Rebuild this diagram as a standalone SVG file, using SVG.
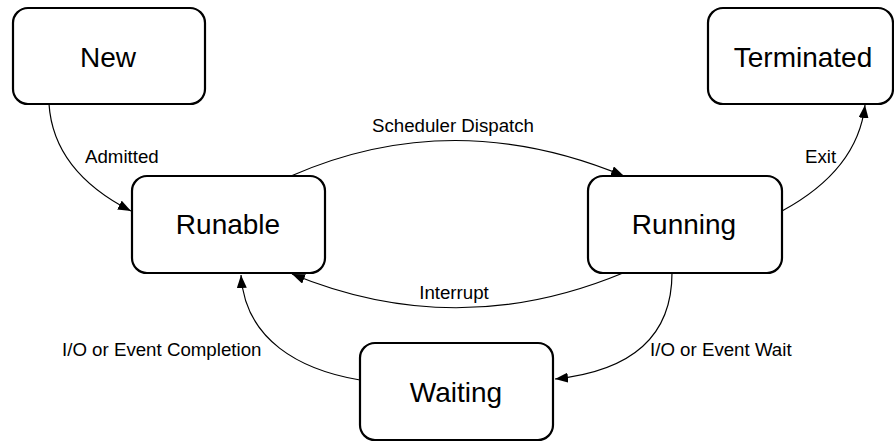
<svg xmlns="http://www.w3.org/2000/svg" width="894" height="442" viewBox="0 0 894 442">
<style>
.node rect{fill:#fff;stroke:#000;stroke-width:2.2}
.node text{font-family:"Liberation Sans",Arial,sans-serif;font-size:28px;text-anchor:middle;fill:#000}
.edge{fill:none;stroke:#000;stroke-width:1.2}
.lbl{font-family:"Liberation Sans",Arial,sans-serif;font-size:18.7px;fill:#000}
</style>
<defs>
<marker id="arr" markerUnits="userSpaceOnUse" markerWidth="14" markerHeight="10" refX="13" refY="5" orient="auto">
<path d="M0,0 L13,5 L0,10 Z" fill="#000"/>
</marker>
</defs>
<rect width="894" height="442" fill="#fff"/>
<g id="connectors">
<path class="edge" d="M49,104 C52,150 80,185 131,211" marker-end="url(#arr)"/>
<path class="edge" d="M291,176 Q453,105 624,176" marker-end="url(#arr)"/>
<path class="edge" d="M782,211 C830,185 860,150 865,105" marker-end="url(#arr)"/>
<path class="edge" d="M623,273 Q457,342 292,274" marker-end="url(#arr)"/>
<path class="edge" d="M672,273 C672,330 640,370 555,379" marker-end="url(#arr)"/>
<path class="edge" d="M360,380 C300,370 245,340 241,275" marker-end="url(#arr)"/>
<text class="lbl" x="85" y="163">Admitted</text>
<text class="lbl" x="453" y="132" text-anchor="middle">Scheduler Dispatch</text>
<text class="lbl" x="805" y="163">Exit</text>
<text class="lbl" x="454" y="299" text-anchor="middle">Interrupt</text>
<text class="lbl" x="62" y="356">I/O or Event Completion</text>
<text class="lbl" x="650" y="356">I/O or Event Wait</text>
</g>
<g id="new" class="node"><rect x="13" y="8" width="192" height="96" rx="15"/><text x="108" y="67">New</text></g>
<g id="terminated" class="node"><rect x="708" y="8" width="185" height="96" rx="15"/><text x="803" y="67">Terminated</text></g>
<g id="runable" class="node"><rect x="132" y="176" width="193" height="97" rx="15"/><text x="228" y="234">Runable</text></g>
<g id="running" class="node"><rect x="588" y="176" width="194" height="97" rx="15"/><text x="684" y="234">Running</text></g>
<g id="waiting" class="node"><rect x="360" y="343" width="193" height="97" rx="15"/><text x="456" y="402">Waiting</text></g>
</svg>
